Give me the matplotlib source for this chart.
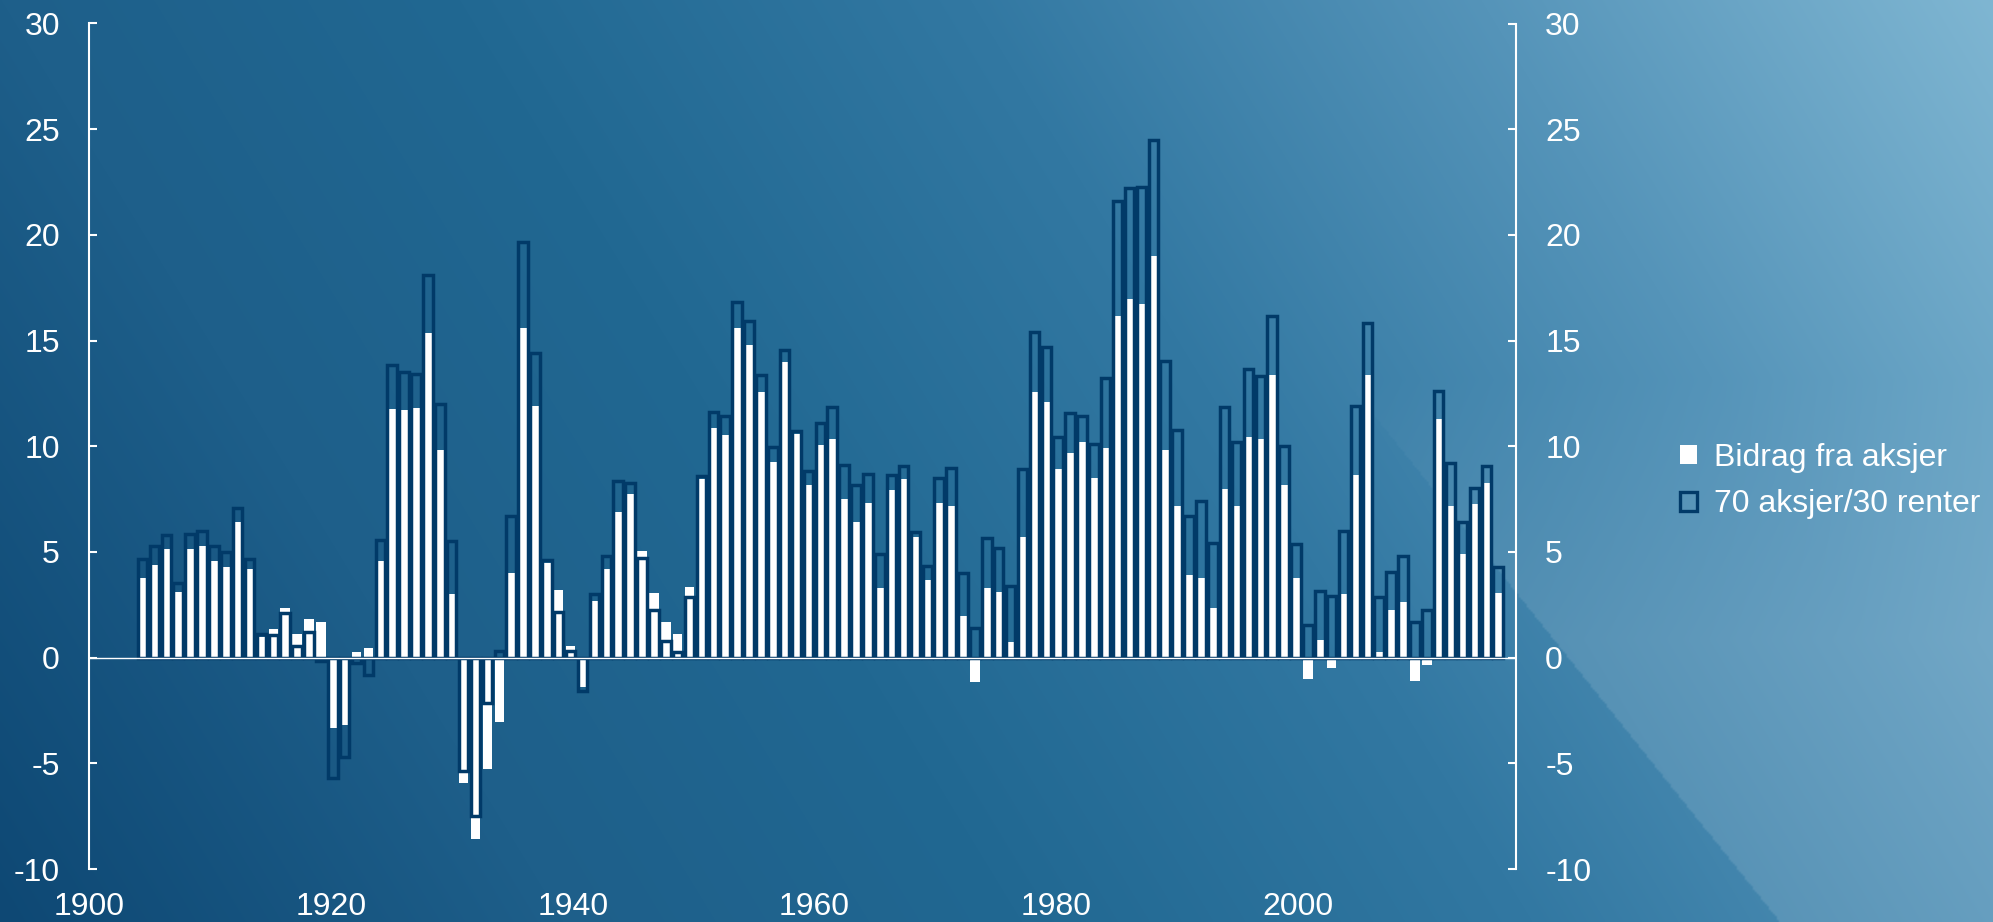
import matplotlib
matplotlib.use("Agg")
import matplotlib.pyplot as plt
from matplotlib.patches import Patch
import numpy as np

plt.rcParams["font.family"] = ["Liberation Sans", "DejaVu Sans"]
plt.rcParams["axes.unicode_minus"] = False

# Årlig avkastning (rullerende), prosent
years = np.arange(1904, 2019)

bidrag_aksjer = [
    3.76, 4.40, 5.12, 3.09, 5.12, 5.26, 4.56, 4.31, 6.40, 4.20,  # 1904-1913
    0.97, 1.35, 2.37, 1.10, 1.81, 1.70, -3.34, -3.20, 0.28, 0.47,  # 1914-1923
    4.56, 11.77, 11.72, 11.80, 15.34, 9.80, 3.01, -5.95, -8.60, -5.29,  # 1924-1933
    -3.03, 3.98, 15.61, 11.91, 4.50, 3.20, 0.53, -1.39, 2.67, 4.17,  # 1934-1943
    6.90, 7.74, 5.04, 3.06, 1.67, 1.11, 3.34, 8.43, 10.85, 10.52,  # 1944-1953
    15.59, 14.81, 12.55, 9.27, 14.00, 10.60, 8.15, 10.05, 10.33, 7.51,  # 1954-1963
    6.40, 7.32, 3.28, 7.93, 8.43, 5.71, 3.67, 7.32, 7.15, 1.95,  # 1964-1973
    -1.17, 3.28, 3.09, 0.72, 5.73, 12.55, 12.11, 8.91, 9.69, 10.19,  # 1974-1983
    8.49, 9.91, 16.17, 16.98, 16.73, 18.98, 9.82, 7.18, 3.90, 3.76,  # 1984-1993
    2.34, 7.96, 7.18, 10.44, 10.33, 13.36, 8.15, 3.79, -1.03, 0.83,  # 1994-2003
    -0.47, 3.03, 8.63, 13.36, 0.28, 2.25, 2.64, -1.11, -0.33, 11.27,  # 2004-2013
    7.18, 4.90, 7.26, 8.24, 3.06,  # 2014-2018
]

portefolje_70_30 = [
    4.68, 5.26, 5.82, 3.51, 5.87, 6.01, 5.29, 5.01, 7.07, 4.68,  # 1904-1913
    1.11, 1.05, 2.10, 0.55, 1.20, -0.15, -5.68, -4.70, -0.25, -0.80,  # 1914-1923
    5.57, 13.86, 13.53, 13.41, 18.09, 12.02, 5.51, -5.35, -7.51, -2.15,  # 1924-1933
    0.30, 6.68, 19.65, 14.42, 4.62, 2.15, 0.30, -1.59, 3.01, 4.81,  # 1934-1943
    8.35, 8.24, 4.70, 2.25, 0.78, 0.28, 2.87, 8.57, 11.63, 11.44,  # 1944-1953
    16.84, 15.92, 13.36, 9.96, 14.53, 10.72, 8.85, 11.08, 11.86, 9.13,  # 1954-1963
    8.15, 8.68, 4.90, 8.63, 9.07, 5.96, 4.34, 8.52, 8.99, 3.98,  # 1964-1973
    1.39, 5.65, 5.18, 3.37, 8.91, 15.39, 14.70, 10.46, 11.55, 11.41,  # 1974-1983
    10.10, 13.22, 21.60, 22.21, 22.27, 24.49, 14.05, 10.77, 6.68, 7.40,  # 1984-1993
    5.40, 11.86, 10.21, 13.64, 13.30, 16.14, 10.02, 5.37, 1.53, 3.15,  # 1994-2003
    2.92, 6.01, 11.91, 15.81, 2.87, 4.04, 4.79, 1.67, 2.23, 12.61,  # 2004-2013
    9.21, 6.40, 8.02, 9.05, 4.31,  # 2014-2018
]

labels = ["Bidrag fra aksjer", "70 aksjer/30 renter"]
year_ticks = [1900, 1920, 1940, 1960, 1980, 2000]
y_ticks = [-10, -5, 0, 5, 10, 15, 20, 25, 30]

NAVY = "#013a68"
FS = 23
W, H = 1993, 922

fig = plt.figure(figsize=(W / 100, H / 100), dpi=100)

# Bakgrunn: diagonal gradient, mørk nede til venstre, lys oppe til høyre
bg = fig.add_axes([0, 0, 1, 1], zorder=-10)
bg.set_axis_off()
gw, gh = W // 2, H // 2
px = np.linspace(0, W, gw)[None, :]
py = np.linspace(0, H, gh)[:, None]
t = 0.78 * (px / W) + 0.22 * (1 - py / H)
stops_t = [0.0, 0.22, 0.4, 0.6, 0.8, 1.0]
stops_c = np.array([
    [14, 72, 116], [30, 95, 138], [33, 104, 146],
    [50, 120, 162], [85, 148, 185], [127, 182, 210],
]) / 255.0
img = np.stack([np.interp(t, stops_t, stops_c[:, k]) for k in range(3)], axis=-1)
# lysere kile nede til høyre, falmer oppover
side = (px - 1370) * 512 - (py - 410) * 410 > 0
amount = 0.12 * np.clip((py - 380) / 260, 0, 1) * side
img = img + (1 - img) * amount[..., None]
bg.imshow(img, extent=(0, 1, 0, 1), aspect="auto", interpolation="bilinear")
bg.set_xlim(0, 1)
bg.set_ylim(0, 1)

ax = fig.add_axes([89 / W, 1 - 869 / H, (1516 - 89) / W, (869 - 23.5) / H])
ax.patch.set_alpha(0)

x = years + 0.5
ax.bar(x, bidrag_aksjer, width=0.8, color="white", linewidth=0, zorder=2)
ax.bar(x, portefolje_70_30, width=0.8, facecolor="none", edgecolor=NAVY,
       linewidth=2.5, zorder=3)
ax.axhline(0, color="white", lw=1.0, zorder=4)

ax.set_xlim(1900, 2020)
ax.set_ylim(-10, 30)
ax.set_xticks([])
ax.set_yticks(y_ticks)
for s in ["top", "bottom", "right"]:
    ax.spines[s].set_visible(False)
ax.spines["left"].set_color("white")
ax.spines["left"].set_linewidth(1.5)
ax.tick_params(axis="y", direction="in", length=6, width=1.5, colors="white",
               labelsize=FS, pad=21)

ax2 = ax.twinx()
ax2.patch.set_alpha(0)
ax2.set_ylim(-10, 30)
ax2.set_yticks(y_ticks)
for s in ["top", "bottom", "left"]:
    ax2.spines[s].set_visible(False)
ax2.spines["right"].set_color("white")
ax2.spines["right"].set_linewidth(1.5)
ax2.tick_params(axis="y", direction="in", length=6, width=1.5, colors="white",
                labelsize=FS, pad=21)


# Årstall-aksen spenner 1900-2018 mens søylene ligger i 120 kategorier
def to_year(v):
    return 1900 + (v - 1900) * 118 / 120


def to_slot(v):
    return 1900 + (v - 1900) * 120 / 118


secax = ax.secondary_xaxis("bottom", functions=(to_year, to_slot))
secax.set_xticks(year_ticks)
secax.spines["bottom"].set_visible(False)
secax.tick_params(length=0, pad=16.5, colors="white", labelsize=FS)

handles = [
    Patch(facecolor="white", edgecolor="none"),
    Patch(facecolor="none", edgecolor=NAVY, linewidth=2.4),
]
leg = fig.legend(handles, labels, loc="center left", bbox_to_anchor=(1680 / W, 1 - 481 / H),
                 frameon=False, fontsize=FS, handlelength=0.54, handleheight=0.54,
                 handletextpad=0.53, labelspacing=0.53, borderpad=0, borderaxespad=0)
for txt in leg.get_texts():
    txt.set_color("white")

fig.savefig("out.png", dpi=100)
plt.close(fig)
